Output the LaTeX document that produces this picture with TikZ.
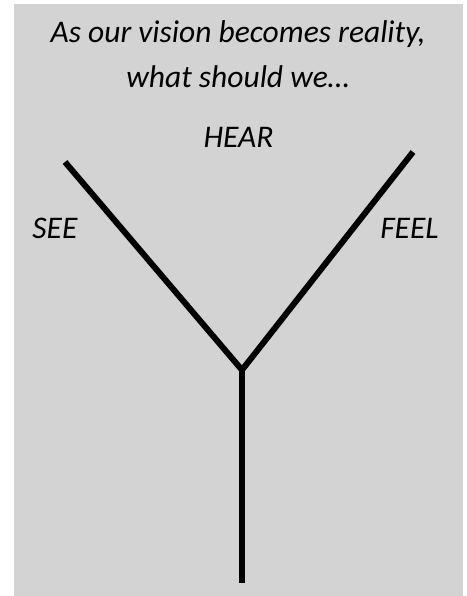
\documentclass[tikz,border=0pt]{standalone}
\usepackage{fontspec}
\setmainfont{Carlito}
\definecolor{backgray}{RGB}{211,211,211}
\begin{document}
\begin{tikzpicture}
[x=1pt,y=-1pt,every node/.style={inner sep=0pt,anchor=base,font=\itshape\fontsize{31.5}{38}\selectfont},branch/.style={line width=6pt}]
\useasboundingbox (0,0) rectangle (466,596);
\fill[backgray] (14,4) rectangle (463,596);
\node (q1) at (238,43) {As our vision becomes reality,};
\node (q2) at (238,88) {what should we…};
\node (hear) at (238.5,148) {HEAR};
\node (see) at (55,238) {SEE};
\node (feel) at (409.5,238) {FEEL};
\coordinate (tl) at (65,162);
\coordinate (tr) at (413,152);
\coordinate (fork) at (242,370);
\coordinate (foot) at (242,583);
\draw[branch] (tl) -- (fork) -- (tr);
\draw[branch] (fork) -- (foot);
\end{tikzpicture}
\end{document}
